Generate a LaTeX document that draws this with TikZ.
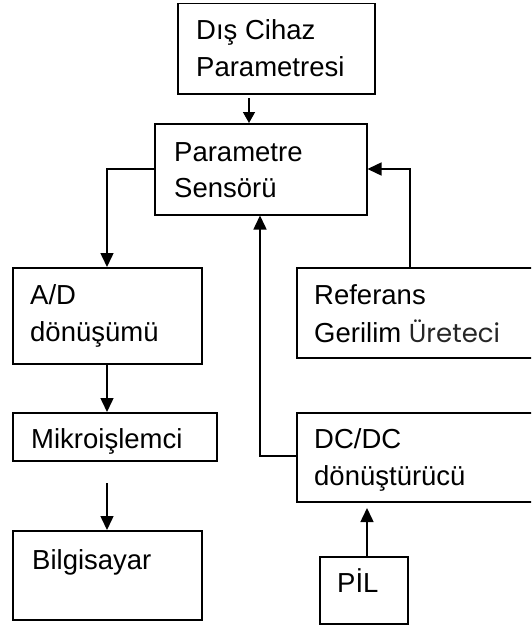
\documentclass[tikz,border=0pt]{standalone}
\usepackage{fontspec}
\setmainfont{Liberation Sans}
\newfontfamily\gothic{Poppins}
\usetikzlibrary{arrows.meta}
\begin{document}
\begin{tikzpicture}[x=1pt,y=-1pt,
  box/.style={draw,line width=1.5pt,inner sep=0pt,anchor=north west},
  lbl/.style={anchor=base west,inner sep=0pt,font=\fontsize{27.5}{37}\selectfont},
  conn/.style={line width=1.5pt,-{Triangle[length=14pt,width=13pt]}}]
\useasboundingbox (0,0) rectangle (531,626);
\begin{scope}
\clip (0,0) rectangle (531,626);
% boxes
\node[box,minimum width=197pt,minimum height=90pt] (dis) at (177,3) {};
\node[box,minimum width=212pt,minimum height=91pt] (sens) at (154,123) {};
\node[box,minimum width=189pt,minimum height=96pt] (ad) at (12,267) {};
\node[box,minimum width=250pt,minimum height=90pt] (ref) at (296,267) {};
\node[box,minimum width=204pt,minimum height=48pt] (mik) at (12,412) {};
\node[box,minimum width=250pt,minimum height=89pt] (dc) at (296,412) {};
\node[box,minimum width=189pt,minimum height=89pt] (bil) at (12,530) {};
\node[box,minimum width=88pt,minimum height=67pt] (pil) at (319,556) {};
% texts
\node[lbl] (t1) at (196,40) {Dış Cihaz};
\node[lbl] (t2) at (196,77) {Parametresi};
\node[lbl] (t3) at (174,161) {Parametre};
\node[lbl] (t4) at (174,197) {Sensörü};
\node[lbl] (t5) at (30,304) {A/D};
\node[lbl] (t6) at (30,341) {dönüşümü};
\node[lbl] (t7) at (314,304) {Referans};
\node[lbl] (t8) at (314,342) {Gerilim {\gothic\fontsize{26}{30}\selectfont\color{black!85}Üreteci}};
\node[lbl] (t9) at (31,448) {Mikroişlemci};
\node[lbl] (t10) at (314,448) {DC/DC};
\node[lbl] (t11) at (314,485) {dönüştürücü};
\node[lbl] (t12) at (32,569) {Bilgisayar};
\node[lbl] (t13) at (337,592) {PİL};
% connectors
\coordinate (c1) at (249,98);
\draw[conn,-{Triangle[length=11pt,width=12pt]}] (c1) -- (c1 |- sens.north);
\draw[conn] (sens.west |- 0,169) -| (ad.north -| 107,0);
\draw[conn] (ref.north -| 410,0) |- (sens.east |- 0,169);
\draw[conn] (dc.west |- 0,456) -| (sens.south -| 260,0);
\draw[conn] (ad.south -| 107,0) -- (mik.north -| 107,0);
\coordinate (c2) at (107,483);
\draw[conn] (c2) -- (c2 |- bil.north);
\draw[conn] (pil.north -| 367,0) -- (367,508);
\end{scope}
\end{tikzpicture}
\end{document}
